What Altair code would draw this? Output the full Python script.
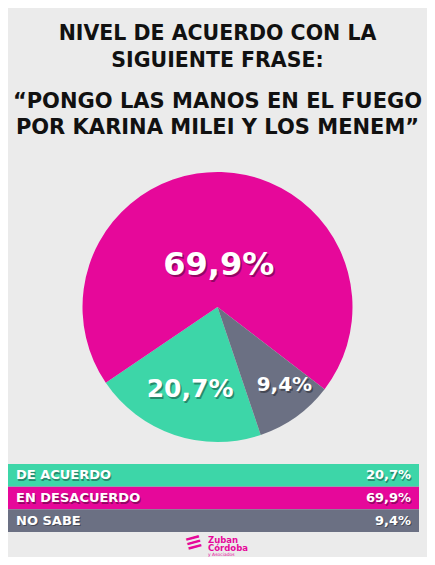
import math
import altair as alt
import pandas as pd

# ---- data -------------------------------------------------------------
categories = ["De acuerdo", "En desacuerdo", "No sabe"]
row_labels = ["DE ACUERDO", "EN DESACUERDO", "NO SABE"]
values = [20.7, 69.9, 9.4]
value_labels = ["20,7%", "69,9%", "9,4%"]
pie_order = [1, 2, 0]  # clockwise order in the pie (No sabe first)
colors = ["#3DD6A8", "#E6089A", "#6B7083"]

title_lines = ["NIVEL DE ACUERDO CON LA", "SIGUIENTE FRASE:"]
subtitle_lines = ["\u201cPONGO LAS MANOS EN EL FUEGO", "POR KARINA MILEI Y LOS MENEM\u201d"]
logo_lines = ["Zuban", "C\u00f3rdoba"]
logo_small = "y Asociados"

df = pd.DataFrame({"cat": categories, "row": row_labels, "value": values,
                   "label": value_labels, "ord": pie_order})

# ---- layout -----------------------------------------------------------
W, H = 419, 549
CX, CY = 209.5, 299
R = 135
FONT = "DejaVu Sans"
START = math.radians(127.5)
theta_scale = alt.Scale(domain=[0, 100], range=[START, START + 2 * math.pi])
color_scale = alt.Scale(domain=categories, range=colors)
yscale = alt.Scale(domain=row_labels, range=[456, 524], paddingInner=0, paddingOuter=0)
MAGENTA = "#E6089A"

base = alt.Chart(df)

pie = base.mark_arc(radius=R).encode(
    theta=alt.Theta("value:Q", stack=True, scale=theta_scale),
    color=alt.Color("cat:N", scale=color_scale, legend=None),
    order=alt.Order("ord:Q"),
    x=alt.value(CX), y=alt.value(CY),
)

lab_base = base.transform_window(
    cum="sum(value)", sort=[alt.SortField("ord")], frame=[None, 0]
).transform_calculate(mid="datum.cum - datum.value / 2")


def pie_label(cat, r, size, dx=0, dy=0):
    sel = lab_base.transform_filter(alt.datum.cat == cat)
    enc = dict(theta=alt.Theta("mid:Q", scale=theta_scale, stack=None),
               text=alt.Text("label:N"), x=alt.value(CX), y=alt.value(CY))
    shadow = sel.mark_text(radius=r, fontSize=size, font=FONT, fontWeight="bold",
                           color="#000000", opacity=0.35, dx=dx + 1.5, dy=dy + 2).encode(**enc)
    txt = sel.mark_text(radius=r, fontSize=size, font=FONT, fontWeight="bold",
                        color="white", dx=dx, dy=dy).encode(**enc)
    return shadow + txt


labels = (pie_label("En desacuerdo", 42, 32)
          + pie_label("De acuerdo", 86, 25)
          + pie_label("No sabe", 103, 20, dx=7, dy=-6))

rows = base.mark_rect().encode(
    y=alt.Y("row:N", scale=yscale, axis=None),
    x=alt.value(-5), x2=alt.value(411),
    color=alt.Color("cat:N", scale=color_scale, legend=None),
)


def row_text(field, align, xpos):
    enc = dict(y=alt.Y("row:N", scale=yscale, axis=None), text=alt.Text(field),
               x=alt.value(xpos))
    sh = base.mark_text(align=align, baseline="middle", fontSize=13, font=FONT,
                        fontWeight="bold", color="#000000", opacity=0.35, dx=1, dy=1.5).encode(**enc)
    tx = base.mark_text(align=align, baseline="middle", fontSize=13, font=FONT,
                        fontWeight="bold", color="white").encode(**enc)
    return sh + tx


row_txt = row_text("row:N", "left", 8) + row_text("label:N", "right", 403)

logo_df = pd.DataFrame({"t": ["\n".join(logo_lines)], "s": [logo_small]})
logo = alt.Chart(logo_df).mark_text(
    align="left", baseline="top", fontSize=8.5, font=FONT, fontWeight="bold",
    color=MAGENTA, lineBreak="\n", lineHeight=8,
).encode(text="t:N", x=alt.value(200), y=alt.value(528))
logo2 = alt.Chart(logo_df).mark_text(
    align="left", baseline="top", fontSize=4.5, font=FONT,
    color=MAGENTA,
).encode(text="s:N", x=alt.value(200), y=alt.value(544))
logo_icon = alt.Chart(logo_df).mark_text(
    align="center", baseline="middle", fontSize=21, font=FONT, fontWeight="bold",
    color=MAGENTA, angle=345, text="\u2261",
).encode(x=alt.value(186), y=alt.value(535))

chart = alt.layer(pie, labels, rows, row_txt, logo, logo2, logo_icon).properties(
    width=W, height=H,
    autosize=alt.AutoSizeParams(type="none"),
    padding=0,
    background="#ebebeb",
    title=alt.TitleParams(
        text=title_lines, subtitle=subtitle_lines, anchor="middle",
        font=FONT, fontSize=20.5, fontWeight="bold", color="#111111", lineHeight=27,
        subtitleFont=FONT, subtitleFontSize=21, subtitleFontWeight="bold",
        subtitleColor="#111111", subtitleLineHeight=26, subtitlePadding=20,
        offset=-130,
    ),
).configure_view(stroke=None)

chart.save("out.html", embed_options={"renderer": "svg", "actions": False})
